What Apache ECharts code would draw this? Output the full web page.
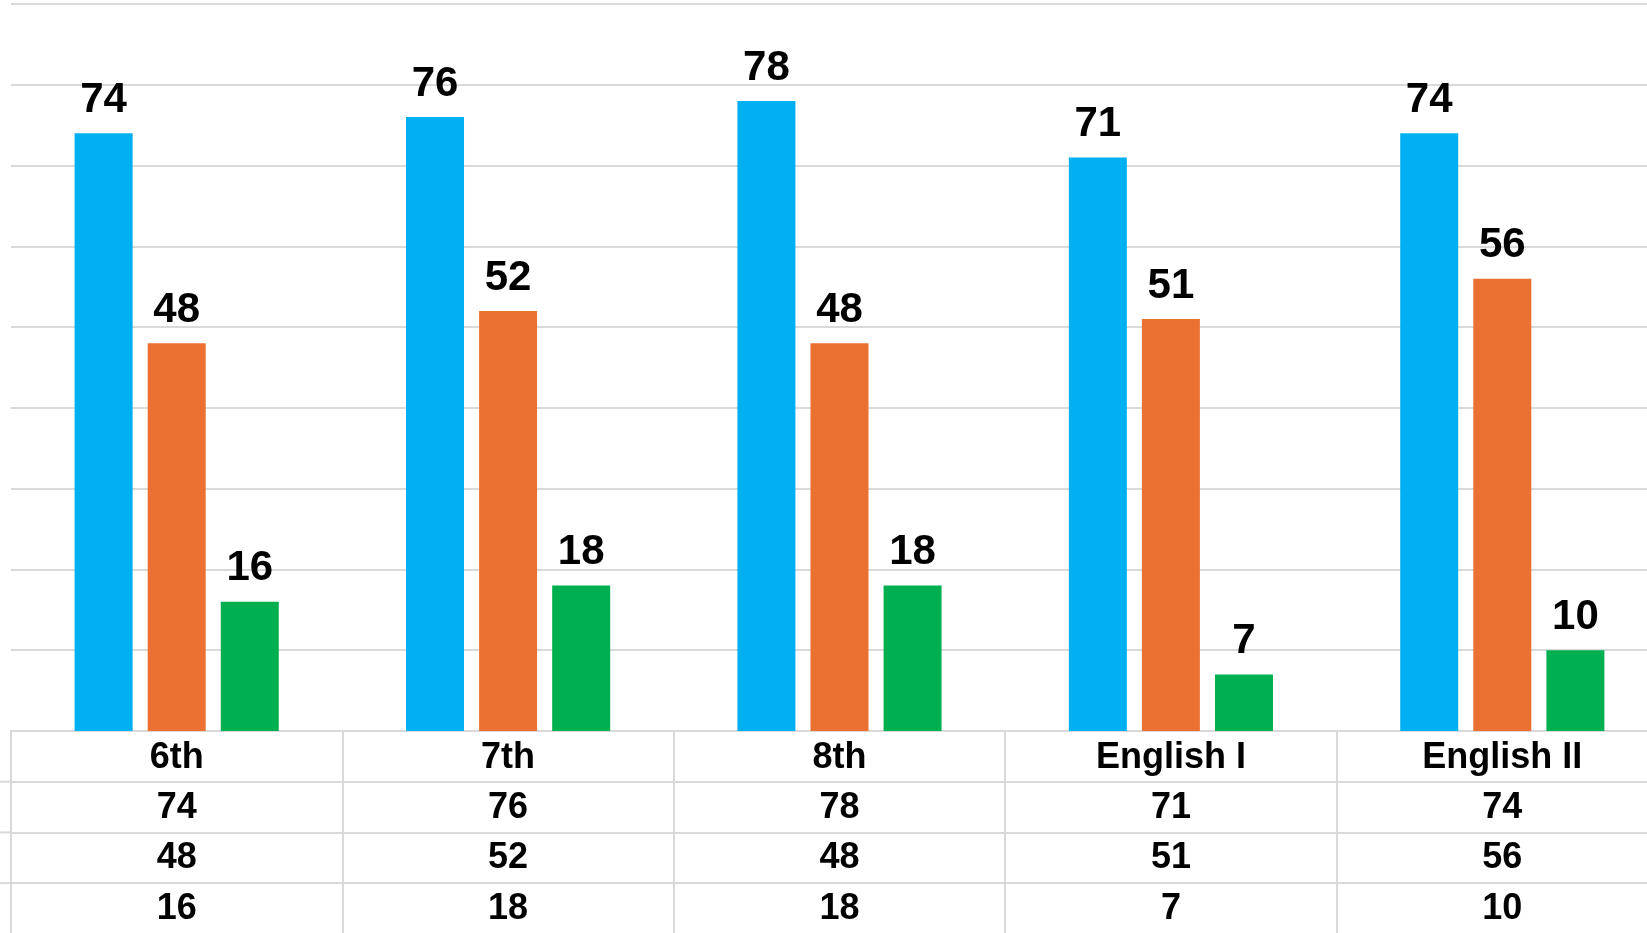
<!DOCTYPE html>
<html>
<head>
<meta charset="utf-8">
<script src="https://cdn.jsdelivr.net/npm/echarts@6/dist/echarts.min.js"></script>
<style>
html,body{margin:0;padding:0;background:#fff;}
#chart{width:1647px;height:933px;}
</style>
</head>
<body>
<div id="chart"></div>
<script>
var categories = ['6th', '7th', '8th', 'English I', 'English II'];
var seriesA = [74, 76, 78, 71, 74];
var seriesB = [48, 52, 48, 51, 56];
var seriesC = [16, 18, 18, 7, 10];
var colors = ['#00B0F0', '#EB7133', '#00B050'];

var FONT = 'Arial, "Liberation Sans", sans-serif';
var LINE = '#d9d9d9';
var ROW = 50.7;

function rowAxis(idx, data) {
  return {
    type: 'category', position: 'bottom', gridIndex: 0,
    offset: ROW * idx,
    data: data.map(String),
    axisLine: {show: true, lineStyle: {color: LINE, width: 2}},
    axisTick: {show: false},
    axisLabel: {
      show: true, interval: 0, margin: 26, verticalAlign: 'middle',
      color: '#000', fontFamily: FONT, fontWeight: 'bold', fontSize: 36
    }
  };
}

var chart = echarts.init(document.getElementById('chart'), null, {renderer: 'canvas'});
var xAxes = [
  {
    type: 'category', data: categories, position: 'bottom',
    axisLine: {show: true, lineStyle: {color: LINE, width: 2}},
    axisTick: {show: true, length: 220, lineStyle: {color: LINE, width: 2}},
    axisLabel: {
      show: true, interval: 0, margin: 27, verticalAlign: 'middle',
      color: '#000', fontFamily: FONT, fontWeight: 'bold', fontSize: 36
    }
  },
  rowAxis(1, seriesA),
  rowAxis(2, seriesB),
  rowAxis(3, seriesC)
];

function bar(data, i) {
  return {
    type: 'bar', data: data, xAxisIndex: 0, barWidth: 58, barGap: '26%',
    itemStyle: {color: colors[i]},
    label: {
      show: true, position: 'top', distance: 12,
      color: '#000', fontFamily: FONT, fontWeight: 'bold', fontSize: 42
    },
    animation: false
  };
}

chart.setOption({
  animation: false,
  backgroundColor: '#fff',
  grid: {left: 11, top: 4, right: -21, bottom: 202, containLabel: false, outerBoundsMode: 'none'},
  xAxis: xAxes,
  yAxis: {
    type: 'value', min: 0, max: 90, interval: 10,
    axisLine: {show: false}, axisTick: {show: false}, axisLabel: {show: false},
    splitLine: {show: true, lineStyle: {color: LINE, width: 2}}
  },
  graphic: [1, 2, 3].map(function (k) {
    return {
      type: 'line', z: 10,
      shape: {x1: 0, y1: 731 + ROW * k, x2: 11, y2: 731 + ROW * k},
      style: {stroke: LINE, lineWidth: 2}
    };
  }),
  series: [bar(seriesA, 0), bar(seriesB, 1), bar(seriesC, 2)]
});
</script>
</body>
</html>
